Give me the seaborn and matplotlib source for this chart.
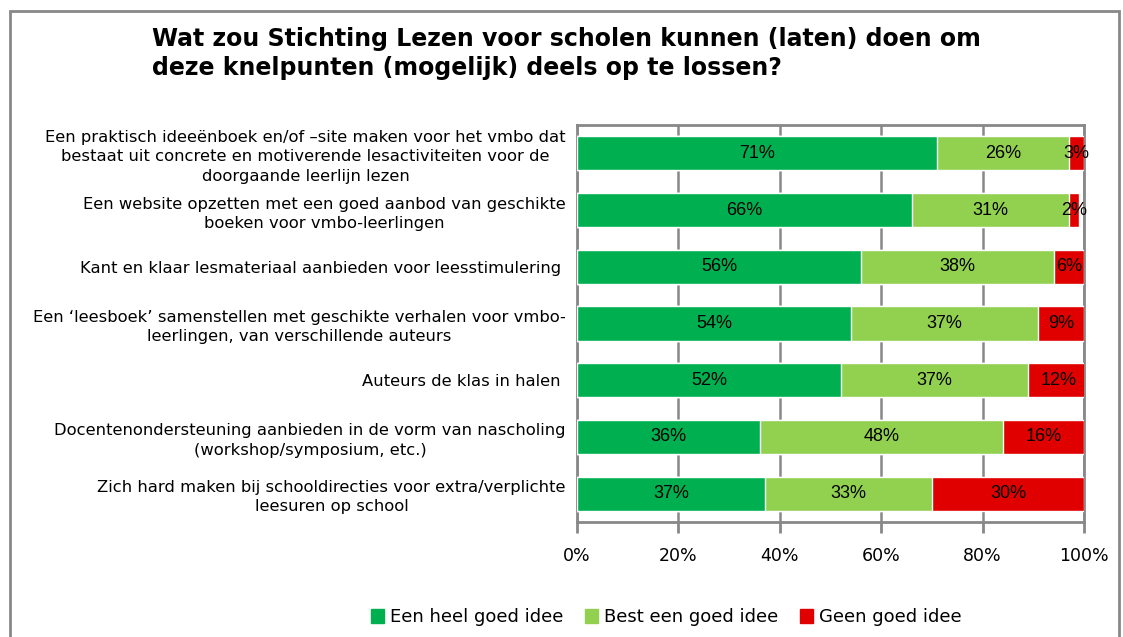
import pandas as pd
import seaborn as sns
import matplotlib.pyplot as plt
from matplotlib.patches import Rectangle

categories = [
    "Een praktisch ideeënboek en/of –site maken voor het vmbo dat\nbestaat uit concrete en motiverende lesactiviteiten voor de\ndoorgaande leerlijn lezen",
    "Een website opzetten met een goed aanbod van geschikte\nboeken voor vmbo-leerlingen",
    "Kant en klaar lesmateriaal aanbieden voor leesstimulering ",
    "Een ‘leesboek’ samenstellen met geschikte verhalen voor vmbo-\nleerlingen, van verschillende auteurs",
    "Auteurs de klas in halen ",
    "Docentenondersteuning aanbieden in de vorm van nascholing\n(workshop/symposium, etc.)",
    "Zich hard maken bij schooldirecties voor extra/verplichte\nleesuren op school",
]
heel_goed = [71, 66, 56, 54, 52, 36, 37]
best_goed = [26, 31, 38, 37, 37, 48, 33]
geen_goed = [3, 2, 6, 9, 12, 16, 30]
series_names = ["Een heel goed idee", "Best een goed idee", "Geen goed idee"]
colors = ["#00B050", "#92D050", "#E00000"]

df = pd.DataFrame({"cat": categories, "heel": heel_goed, "best": best_goed, "geen": geen_goed})
df["c1"] = df["heel"] / 100
df["c2"] = (df["heel"] + df["best"]) / 100
df["c3"] = (df["heel"] + df["best"] + df["geen"]) / 100

sns.set_theme(style="white", rc={"text.color": "black", "axes.labelcolor": "black",
                                 "xtick.color": "#888888", "ytick.color": "black",
                                 "xtick.labelcolor": "black", "ytick.labelcolor": "black"})
plt.rcParams['font.family'] = ['DejaVu Sans']

fig = plt.figure(figsize=(11.23, 6.37), dpi=100)
ax = fig.add_axes([0.5138, 0.1805, 0.4515, 0.6233])

# stacked bars: draw the totals first, then overlay
for col, color in zip(["c3", "c2", "c1"], colors[::-1]):
    sns.barplot(data=df, y="cat", x=col, color=color, saturation=1, width=0.6,
                errorbar=None, orient="h", ax=ax, zorder=3)

for i, row in df.iterrows():
    starts = [0, row["c1"], row["c2"]]
    for start, val in zip(starts, [row["heel"], row["best"], row["geen"]]):
        ax.text(start + val / 200, i, f"{val}%", ha="center", va="center",
                fontsize=13, family="Liberation Sans", color="black", zorder=4)

ax.set_xlim(0, 1)
ax.set_ylim(6.5, -0.5)
ax.set_xticks([0, 0.2, 0.4, 0.6, 0.8, 1.0])
ax.set_xticklabels(["0%", "20%", "40%", "60%", "80%", "100%"], fontsize=12.5)
ax.tick_params(axis="x", direction="out", length=8, width=2, color="#888888",
               pad=10, bottom=True, labelcolor="black")
ax.tick_params(axis="y", length=0, pad=8, labelsize=11.8, labelcolor="black")
ax.set_xlabel("")
ax.set_ylabel("")
ax.xaxis.grid(True, color="#888888", linewidth=1.8)
ax.set_axisbelow(True)
for s in ax.spines.values():
    s.set_color("#888888")
    s.set_linewidth(2)
for lab in ax.get_yticklabels():
    lab.set_multialignment("center")
    lab.set_linespacing(1.35)

fig.text(0.135, 0.958, "Wat zou Stichting Lezen voor scholen kunnen (laten) doen om\ndeze knelpunten (mogelijk) deels op te lossen?",
         ha="left", va="top", fontsize=17, fontweight="bold", linespacing=1.25, color="black")

handles = [Rectangle((0, 0), 1, 1, color=c) for c in colors]
fig.legend(handles, series_names, loc="center", bbox_to_anchor=(0.593, 0.031), ncol=3,
           frameon=False, fontsize=13, handlelength=0.75, handleheight=0.75,
           handletextpad=0.3, columnspacing=1.2)

fig.patches.append(Rectangle((0.009, -0.05), 0.987, 1.033, transform=fig.transFigure,
                             fill=False, edgecolor="#888888", linewidth=2))

fig.savefig("out.png", dpi=100)
